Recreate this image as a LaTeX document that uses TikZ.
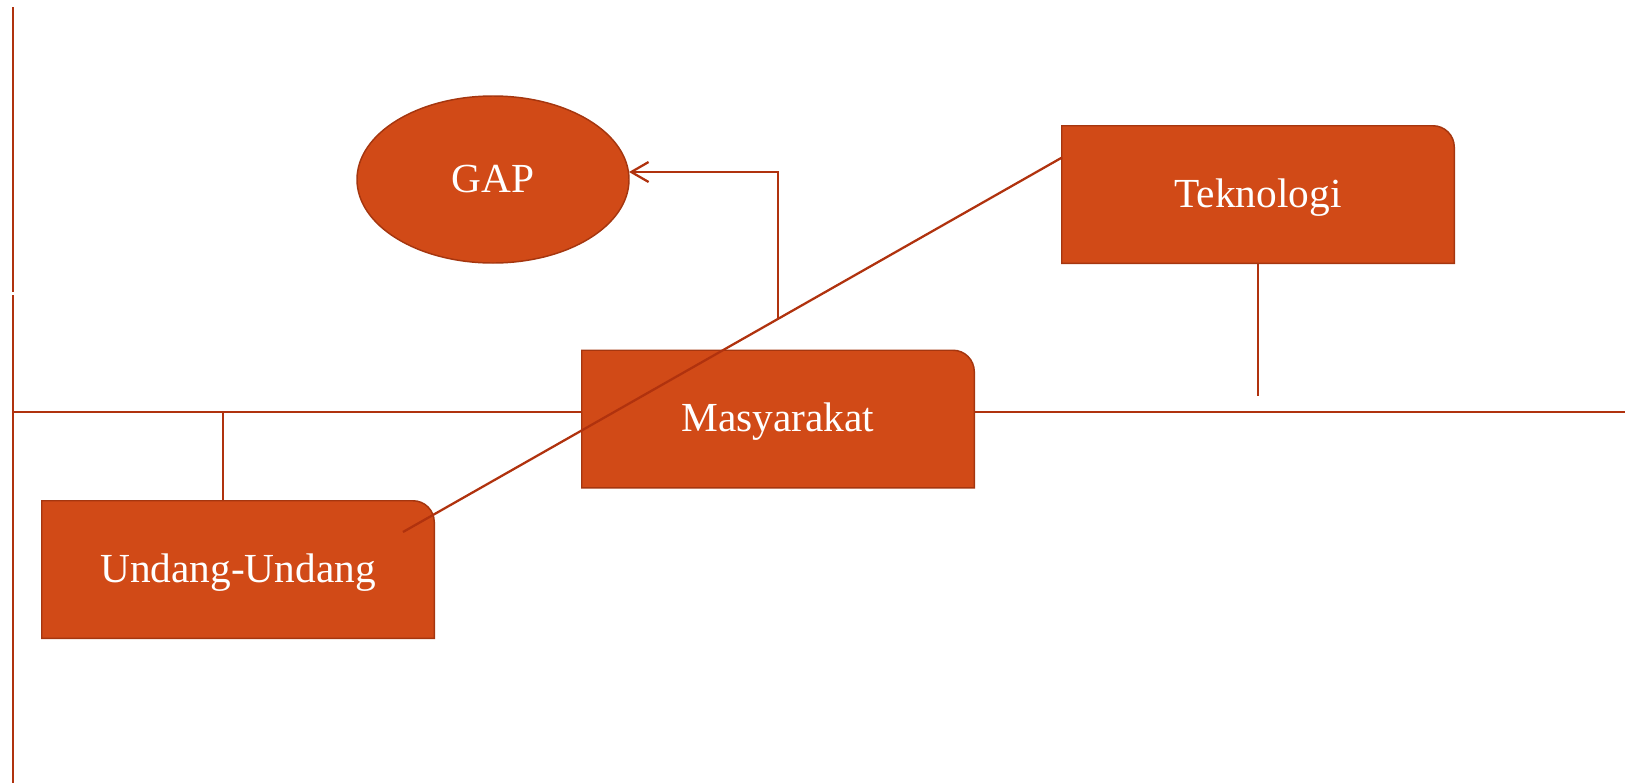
\documentclass[tikz,border=0pt]{standalone}
\usepackage{fontspec}
\setmainfont{Liberation Serif}
\usetikzlibrary{arrows.meta,shapes.geometric}
\definecolor{boxfill}{RGB}{209,74,23}
\definecolor{boxline}{RGB}{165,54,15}
\definecolor{conn}{RGB}{176,50,14}
\tikzset{
  boxnode/.style={rectangle, minimum width=294pt, minimum height=102.75pt, inner sep=0pt, text=white, font=\fontsize{31}{36}\selectfont},
  boxshape/.style={fill=boxfill, draw=boxline, line width=1.1pt},
  ovalnode/.style={ellipse, minimum width=204pt, minimum height=125.25pt, inner sep=0pt, fill=boxfill, draw=boxline, line width=1.1pt, text=white, font=\fontsize{31}{36}\selectfont},
  axis/.style={draw=conn, line width=2.2pt},
  link/.style={draw=conn, line width=1.7pt},
}
\newcommand{\tabbox}[1]{%
  \path[boxshape] (#1.south west) -- (#1.north west) -- ([xshift=-16pt]#1.north east)
    arc[start angle=90, end angle=0, radius=16pt] -- (#1.south east) -- cycle;}
\begin{document}
\begin{tikzpicture}[x=0.75pt, y=-0.75pt]
\useasboundingbox (0,0) rectangle (1625,783);
% named coordinates
\coordinate (vtop) at (13,7);
\coordinate (vgapa) at (13,292);
\coordinate (vgapb) at (13,295);
\coordinate (vbot) at (13,783);
\coordinate (hleft) at (13,412);
\coordinate (hright) at (1625,412);
\coordinate (ujoin) at (223,412);
\coordinate (tend) at (1258,396);
\coordinate (dstart) at (403,532);
\coordinate (dend) at (1062,157.5);
\coordinate (astart) at (778,319);
\coordinate (atip) at (629,172);
% nodes (positions)
\node[boxnode] (mas) at (778,419) {};
\node[boxnode] (und) at (238,569.5) {};
\node[boxnode] (tek) at (1258,194.5) {};
% axes
\draw[axis] (vtop) -- (vgapa);
\draw[axis] (vgapb) -- (vbot);
\draw[axis] (hleft) -- (hleft -| mas.west);
\draw[axis] (hright -| mas.east) -- (hright);
\draw[axis] (ujoin) -- (ujoin |- und.north);
\draw[axis] (tek.south) -- (tend);
% boxes
\tabbox{mas}
\tabbox{und}
\tabbox{tek}
\node[boxnode] at ([yshift=-2pt]mas.center) {Masyarakat};
\node[boxnode] at ([yshift=-2pt]und.center) {Undang-Undang};
\node[boxnode] at ([yshift=-2pt]tek.center) {Teknologi};
\node[ovalnode] (gap) at (493,179.5) {GAP};
% connectors
\draw[link] (dstart) -- (dend);
\draw[link, -{Straight Barb[length=13pt, width=15pt, line width=1.7pt]}] (astart) |- (atip);
\end{tikzpicture}
\end{document}
